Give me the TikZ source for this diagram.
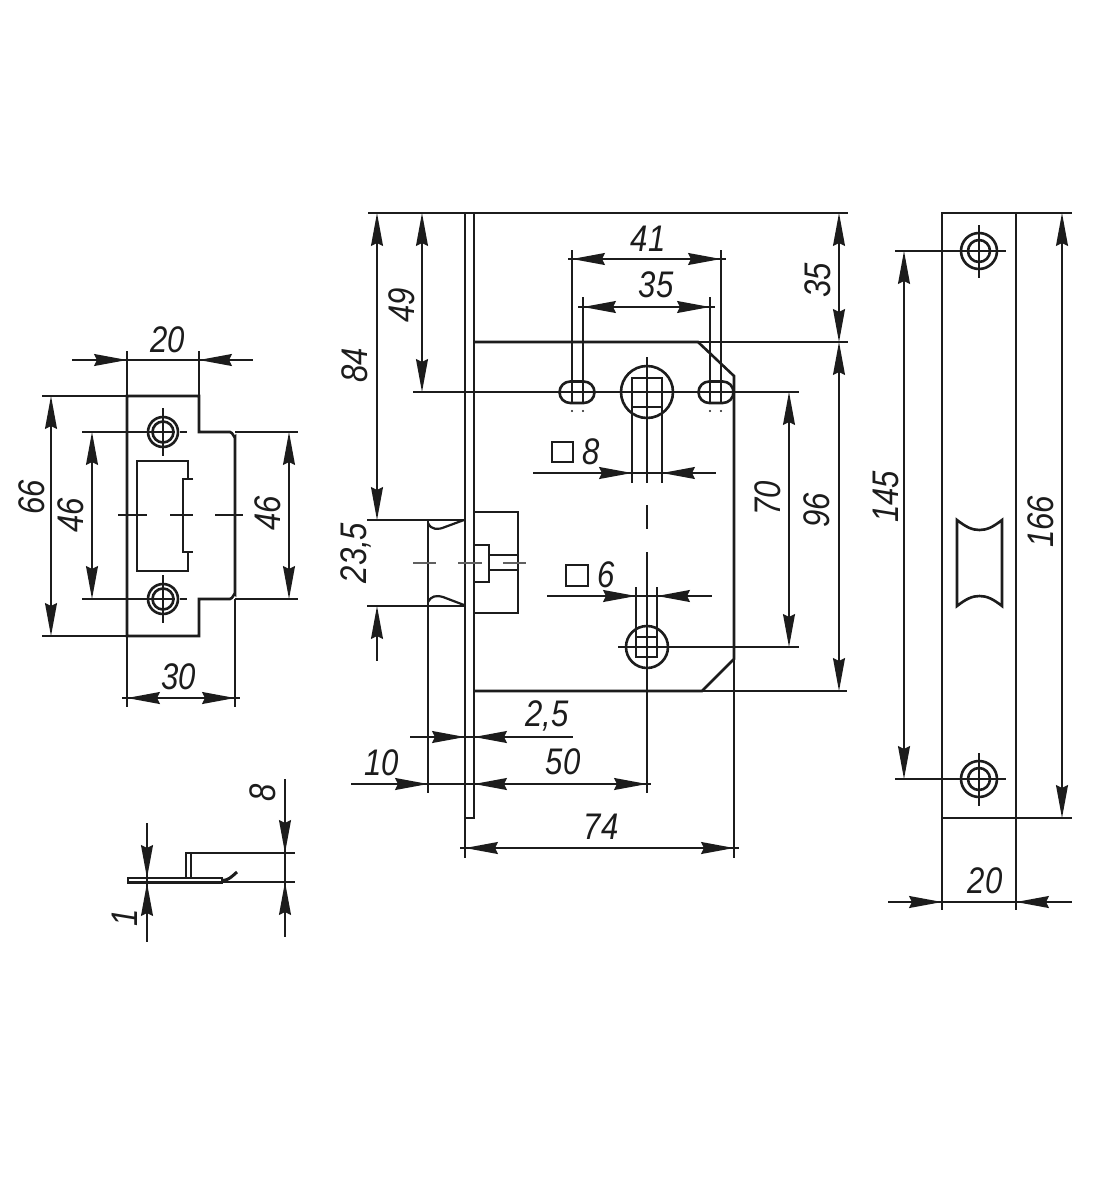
\documentclass[tikz,border=0pt]{standalone}
\usepackage{fontspec}
\setmainfont{Liberation Sans}
\usetikzlibrary{arrows.meta}
\definecolor{ink}{HTML}{1C1C1C}
\newcommand{\narrowed}[1]{\scalebox{0.84}[1]{#1}}
\tikzset{
  outline/.style={draw=ink,line width=2.6pt,line join=miter},
  thinline/.style={draw=ink,line width=1.5pt},
  dimtip/.style={draw=ink,line width=1.5pt,-{Stealth[length=33pt,width=12pt,inset=3pt,fill=ink]}},
  dimtext/.style={text=ink,inner sep=0pt,font=\fontsize{37}{37}\selectfont\itshape},
  dimv/.style={dimtext,rotate=90}
}
\newcommand{\tip}[2]{\draw[dimtip] (#1) -- (#2);}
\begin{document}
\begin{tikzpicture}[x=1pt,y=-1pt]
\useasboundingbox (0,0) rectangle (1110,1200);
\fill[white] (0,0) rectangle (1110,1200);

%% ---------- strike plate, front view
\draw[outline] (127,396) -- (199,396) -- (199,432) -- (230,432) to[out=0,in=-90] (235,437) -- (235,594) to[out=90,in=0] (230,599) -- (199,599) -- (199,636) -- (127,636) -- cycle;
\draw[outline] (188,479) -- (188,461) -- (137,461) -- (137,571) -- (188,571) -- (188,552);
\draw[outline,line width=2.2pt] (193,479) -- (183,479) -- (183,552) -- (193,552);
\foreach \yy in {432,599}{
  \draw[outline] (163,\yy) circle[radius=15];
  \draw[outline] (163,\yy) circle[radius=10.5];
  \draw[thinline] (163,\yy-24) -- (163,\yy+24);
  \draw[thinline] (82,\yy) -- (175,\yy) (180,\yy) -- (187,\yy);
}
\draw[thinline] (118,515) -- (147,515) (170,515) -- (193,515) (215,515) -- (243,515);
% extension lines
\draw[thinline] (127,351) -- (127,707) (199,351) -- (199,396) (235,599) -- (235,707);
\draw[thinline] (42,396) -- (127,396) (42,636) -- (127,636);
\draw[thinline] (235,432) -- (298,432) (235,599) -- (298,599);
% dimensions
\draw[thinline] (72,360) -- (253,360);
\tip{72+19,360}{127,360} \tip{253-19,360}{199,360}
\draw[thinline] (51,435) -- (51,595) (92,470) -- (92,560) (289,470) -- (289,560);
\tip{51,440}{51,396} \tip{51,590}{51,636}
\tip{92,475}{92,432} \tip{92,556}{92,599}
\tip{289,475}{289,432} \tip{289,556}{289,599}
\draw[thinline] (122,698) -- (240,698);
\tip{170,698}{127,698} \tip{195,698}{235,698}
\node[dimtext] (t20a) at (168,340) {\narrowed{20}};
\node[dimv] (t66) at (32,497) {\narrowed{66}};
\node[dimv] (t46a) at (71,515) {\narrowed{46}};
\node[dimv] (t46b) at (268,513) {\narrowed{46}};
\node[dimtext] (t30) at (179,677) {\narrowed{30}};

%% ---------- strike plate, side view
\draw[outline,line width=2pt] (186,878) -- (186,853) -- (191,853) -- (191,878);
\draw[outline,line width=2pt] (128,878) rectangle (222,883);
\draw[outline,line width=3pt] (222,880.5) to[out=0,in=220] (237,872);
\draw[thinline] (191,853) -- (295,853) (128,882) -- (295,882);
\draw[thinline] (147,823) -- (147,942) (285,779) -- (285,937);
\tip{147,840}{147,878} \tip{147,925}{147,883}
\tip{285,815}{285,853} \tip{285,915}{285,882}
\node[dimv] (t8side) at (263,793) {\narrowed{8}};
\node[dimv] (t1) at (125,918) {\narrowed{1}};

%% ---------- lock case
\draw[outline] (465,213) rectangle (474,818);
\draw[outline] (474,342) -- (698,342) -- (734,376) -- (734,659) -- (702,691) -- (474,691);
\draw[outline] (474,512) -- (518,512) -- (518,613) -- (474,613);
\draw[outline] (474,545) -- (489,545) -- (489,582) -- (474,582);
\draw[outline,line width=2.2pt] (489,555) -- (518,555) (489,570) -- (518,570);
% latch
\draw[outline,line width=2.2pt] (465,520) -- (428,520) -- (428,606) -- (465,606);
\draw[outline,line width=2.2pt] (428,523) .. controls (431,530) and (438,530) .. (445,527) -- (464,520);
\draw[outline,line width=2.2pt] (428,602) .. controls (431,596) and (436,595) .. (443,597) -- (464,605);
\draw[thinline] (428,606) -- (428,793);
\draw[thinline,draw=ink!70] (413,563) -- (436,563) (458,563) -- (482,563) (503,563) -- (526,563);
% slots
\foreach \xa in {572,583,710,721}{
  \fill[ink] (\xa,411) circle[radius=1.2];
}
\draw[outline,rounded corners=10.7pt] (559.5,381.5) rectangle (594.5,403);
\draw[outline,rounded corners=10.7pt] (698.5,381.5) rectangle (733.5,403);
% upper spindle
\draw[outline] (647,392) circle[radius=26];
\draw[outline] (632,378) rectangle (662,407);
\draw[thinline] (647,357) -- (647,483) (632,407) -- (632,483) (662,407) -- (662,483);
\draw[thinline,line width=1.8pt] (647,505) -- (647,529) (647,552) -- (647,793);
% lower spindle
\draw[outline] (647,647) circle[radius=21];
\draw[outline,line width=2.2pt] (636,637) rectangle (657,657);
\draw[thinline] (636,587) -- (636,637) (657,587) -- (657,637);
\draw[thinline] (618,647) -- (799,647);
% centre and extension lines
\draw[thinline] (413,392) -- (799,392);
\draw[thinline] (368,213) -- (848,213) (698,342) -- (848,342) (702,691) -- (847,691);
\draw[thinline] (367,520) -- (465,520) (367,606) -- (465,606);
\draw[thinline] (572,250) -- (572,403) (721,250) -- (721,403) (583,297) -- (583,403) (710,297) -- (710,403);
\draw[thinline] (734,659) -- (734,858) (465,818) -- (465,858);
% dimension lines
\draw[thinline] (377,240) -- (377,490) (422,240) -- (422,370) (789,420) -- (789,620) (839,375) -- (839,660);
\tip{377,250}{377,213} \tip{377,485}{377,520}
\tip{377,640}{377,606} \draw[thinline] (377,640) -- (377,661);
\tip{422,250}{422,213} \tip{422,355}{422,392}
\draw[thinline] (568,259) -- (726,259);
\tip{615,259}{572,259} \tip{680,259}{721,259}
\draw[thinline] (578,307) -- (715,307);
\tip{625,307}{583,307} \tip{670,307}{710,307}
\tip{839,250}{839,213} \draw[thinline] (839,250) -- (839,305); \tip{839,305}{839,342} \tip{839,380}{839,342}
\tip{839,655}{839,691}
\tip{789,430}{789,392} \tip{789,610}{789,647}
\draw[thinline] (533,473) -- (716,473);
\tip{590,473}{632,473} \tip{702,473}{662,473}
\draw[thinline] (547,596) -- (712,596);
\tip{595,596}{636,596} \tip{698,596}{657,596}
\draw[thinline] (410,737) -- (573,737);
\tip{429,737}{465,737} \tip{510,737}{474,737}
\draw[thinline] (351,784) -- (651,784);
\tip{395,784}{428,784} \tip{502,784}{474,784} \tip{612,784}{647,784}
\draw[thinline] (460,848) -- (739,848);
\tip{502,848}{465,848} \tip{696,848}{734,848}
% labels
\node[dimv] (t84) at (355,365) {\narrowed{84}};
\node[dimv] (t49) at (402,305) {\narrowed{49}};
\node[dimtext] (t41) at (648,239) {\narrowed{41}};
\node[dimtext] (t35a) at (656,285) {\narrowed{35}};
\node[dimv] (t35b) at (818,280) {\narrowed{35}};
\node[dimv] (t96) at (817,510) {\narrowed{96}};
\node[dimv] (t70) at (768,498) {\narrowed{70}};
\node[dimv] (t235) at (356,553) {\narrowed{23,5}};
\node[dimtext] (t8) at (591,452) {\narrowed{8}};
\node[dimtext] (t6) at (606,575) {\narrowed{6}};
\node[dimtext] (t25) at (547,716) {\narrowed{2,5}};
\node[dimtext] (t10) at (382,763) {\narrowed{10}};
\node[dimtext] (t50) at (563,762) {\narrowed{50}};
\node[dimtext] (t74) at (601,827) {\narrowed{74}};
\draw[thinline,line width=1.8pt] (552,442) rectangle (573,462);
\draw[thinline,line width=1.8pt] (566,565) rectangle (588,586);

%% ---------- faceplate, front view
\draw[outline] (942,213) rectangle (1016,818);
\draw[outline] (957,520) .. controls (966,527) and (972,530) .. (979.5,530) .. controls (987,530) and (993,527) .. (1002,520) -- (1002,606) .. controls (993,599) and (987,596) .. (979.5,596) .. controls (972,596) and (966,599) .. (957,606) -- cycle;
\foreach \yy in {251,779}{
  \draw[outline] (979,\yy) circle[radius=18];
  \draw[outline] (979,\yy) circle[radius=11];
  \draw[thinline] (979,\yy-26) -- (979,\yy+27);
  \draw[thinline] (895,\yy) -- (1006,\yy);
}
\draw[thinline] (1016,213) -- (1072,213) (1016,818) -- (1072,818);
\draw[thinline] (942,818) -- (942,910) (1016,818) -- (1016,910);
\tip{904,290}{904,251} \draw[thinline] (904,290) -- (904,740); \tip{904,740}{904,779}
\tip{1062,252}{1062,213} \draw[thinline] (1062,252) -- (1062,780); \tip{1062,780}{1062,818}
\draw[thinline] (888,902) -- (1072,902);
\tip{908,902}{942,902} \tip{1050,902}{1016,902}
\node[dimv] (t145) at (886,497) {\narrowed{145}};
\node[dimv] (t166) at (1041,522) {\narrowed{166}};
\node[dimtext] (t20b) at (985,881) {\narrowed{20}};
\end{tikzpicture}
\end{document}
